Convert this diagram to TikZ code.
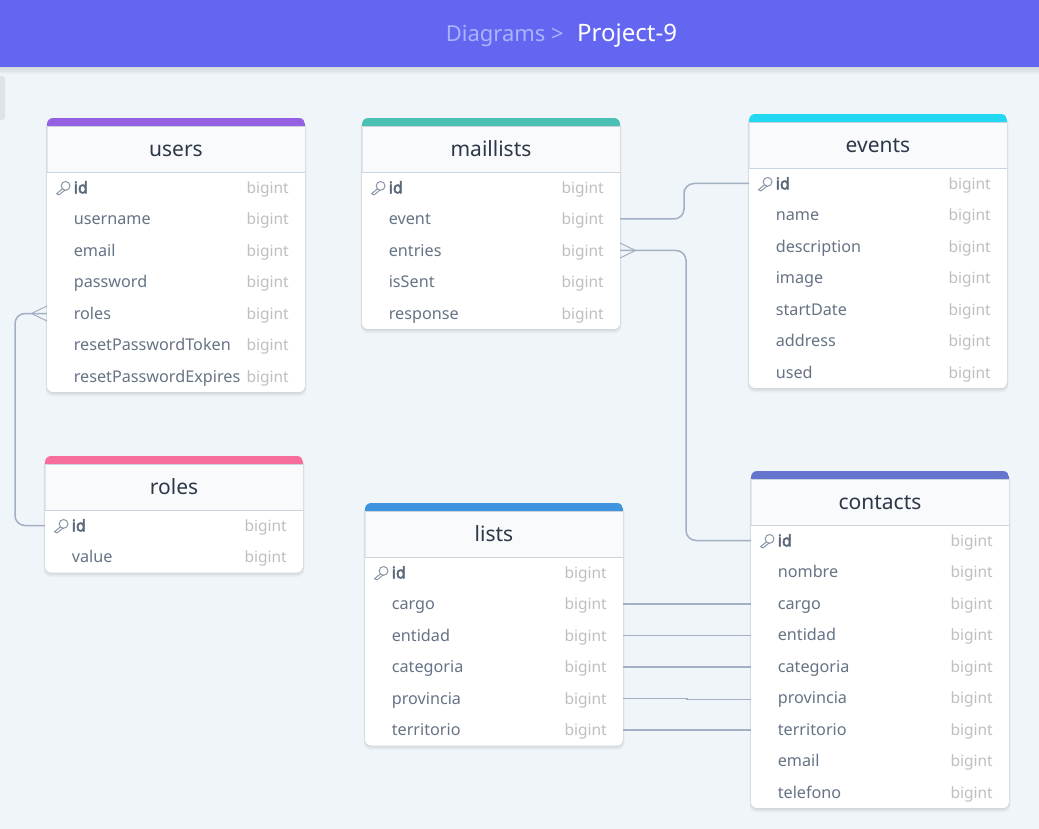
\documentclass[tikz,border=0pt]{standalone}
\usepackage{fontspec}
\setmainfont{Noto Sans}
\newfontfamily\idfont{Noto Sans}[FakeBold=3]
\definecolor{bgc}{HTML}{F0F5F9}
\definecolor{topc}{HTML}{6366F1}
\definecolor{crumb}{HTML}{A9B4FC}
\definecolor{tabc}{HTML}{DCE4EA}
\definecolor{headc}{HTML}{F8FAFC}
\definecolor{edgec}{HTML}{CBD5E0}
\definecolor{titlec}{HTML}{2D3748}
\definecolor{rowc}{HTML}{667385}
\definecolor{idc}{HTML}{5A6778}
\definecolor{typec}{HTML}{BFBFBF}
\definecolor{linkc}{HTML}{A3B0C4}
\definecolor{keyc}{HTML}{8A96A6}
\definecolor{cpurple}{HTML}{9561E2}
\definecolor{cteal}{HTML}{4DC0B5}
\definecolor{ccyan}{HTML}{22D8F2}
\definecolor{cpink}{HTML}{F66D9B}
\definecolor{cblue}{HTML}{3F93DF}
\definecolor{cindigo}{HTML}{6574CD}
\tikzset{
  x=1pt,y=-1pt,
  rowbox/.style={minimum width=258pt,minimum height=31.5pt,inner sep=0pt,outer sep=0pt},
  rowtext/.style={anchor=base west,inner sep=0pt,text=rowc,font=\fontsize{16.2}{19}\selectfont},
  idtext/.style={anchor=base west,inner sep=0pt,text=idc,font=\idfont\fontsize{16}{19}\selectfont},
  typetext/.style={anchor=base east,inner sep=0pt,text=typec,font=\fontsize{15.5}{19}\selectfont},
  titletext/.style={anchor=base,inner sep=0pt,text=titlec,font=\fontsize{21}{24}\selectfont},
  link/.style={draw=linkc,line width=1.5pt,rounded corners=10pt},
  straightlink/.style={draw=linkc,line width=1.5pt},
  crow/.style={draw=linkc,line width=1pt},
  keyicon/.style={draw=keyc,line width=1pt,line cap=round},
}
% name, x, top, colour, title, number of rows, rows
\newcommand{\erd}[7]{%
  \pgfmathsetmacro{\xr}{#2+258}%
  \pgfmathsetmacro{\yb}{#3+69+(#6-1)*31.5+16}%
  \foreach \s in {1,2,3,4,5}{%
    \fill[black,opacity=0.022,rounded corners=7pt] (#2-\s*0.3,#3+\s*0.6) rectangle (\xr+\s*0.3,\yb+\s*0.9);}
  \begin{scope}
    \clip[rounded corners=6pt] (#2,#3) rectangle (\xr,\yb);
    \fill[white] (#2,#3) rectangle (\xr,\yb);
    \fill[headc] (#2,#3) rectangle (\xr,#3+54);
    \fill[#4] (#2,#3) rectangle (\xr,#3+8);
    \draw[edgec,line width=0.6pt] (#2,#3+8.5) -- (\xr,#3+8.5);
    \draw[edgec,line width=1pt] (#2,#3+54.5) -- (\xr,#3+54.5);
    \draw[edgec!60,line width=0.8pt] (#2,#3+8) -- (#2,#3+54) (\xr,#3+8) -- (\xr,#3+54);
  \end{scope}
  \pgfmathsetmacro{\xc}{#2+129}%
  \pgfmathsetmacro{\yt}{#3+38.5}%
  \node[titletext] (#1-title) at (\xc,\yt) {#5};
  \foreach \t [count=\i from 0] in {#7}{%
    \pgfmathsetmacro{\yr}{#3+69.5+\i*31.5}%
    \pgfmathsetmacro{\yba}{\yr+5.8}%
    \pgfmathsetmacro{\xa}{#2+26.6}%
    \pgfmathsetmacro{\xe}{#2+242}%
    \node[rowbox] (#1-\t) at (\xc,\yr) {};
    \ifnum\i=0
      \node[idtext] (#1-\t-name) at (\xa,\yba) {\t};
      \draw[keyicon] (#2+18.6,\yr-1.6) circle[radius=4.4pt];
      \draw[keyicon] (#2+15.4,\yr+1.4) -- (#2+9.6,\yr+6.2) -- (#2+12,\yr+7.4) -- (#2+18,\yr+2.6);
    \else
      \node[rowtext] (#1-\t-name) at (\xa,\yba) {\t};
    \fi
    \node[typetext] (#1-\t-type) at (\xe,\yba) {bigint};
  }
}
\begin{document}
\begin{tikzpicture}
\useasboundingbox (0,0) rectangle (1039,829);
\fill[bgc] (0,0) rectangle (1039,829);
\foreach \s in {1,...,6}{\fill[black,opacity=0.018] (0,67) rectangle (1039,67+\s*1.2);}
\fill[topc] (0,0) rectangle (1039,67);
\fill[tabc,rounded corners=3pt] (-6,76) rectangle (5,120);
\node[anchor=base east,inner sep=0pt,text=crumb,font=\fontsize{22}{28}\selectfont] (crumbs) at (564,41.5) {Diagrams >};
\node[anchor=base west,inner sep=0pt,text=white,font=\fontsize{24}{28}\selectfont] (project) at (577,41.5) {Project-9};

\erd{users}{47}{118}{cpurple}{users}{7}{id,username,email,password,roles,resetPasswordToken,resetPasswordExpires}
\erd{roles}{45}{456}{cpink}{roles}{2}{id,value}
\erd{maillists}{362}{118}{cteal}{maillists}{5}{id,event,entries,isSent,response}
\erd{events}{749}{114}{ccyan}{events}{7}{id,name,description,image,startDate,address,used}
\erd{lists}{365}{503}{cblue}{lists}{6}{id,cargo,entidad,categoria,provincia,territorio}
\erd{contacts}{751}{471}{cindigo}{contacts}{9}{id,nombre,cargo,entidad,categoria,provincia,territorio,email,telefono}

\coordinate (bend1) at (684,200);
\coordinate (bend2) at (686,400);
\coordinate (bend3) at (15,420);
\draw[link] (maillists-event.east) -| (bend1) |- (events-id.west);
\draw[link] (maillists-entries.east) -| (bend2) |- (contacts-id.west);
\draw[link] (users-roles.west) -| (bend3) |- (roles-id.west);
\draw[straightlink] (lists-cargo.east) -- (lists-cargo.east -| contacts-cargo.west);
\draw[straightlink] (lists-entidad.east) -- (lists-entidad.east -| contacts-entidad.west);
\draw[straightlink] (lists-categoria.east) -- (lists-categoria.east -| contacts-categoria.west);
\draw[straightlink] (lists-provincia.east) -- ++(64,0) -- ++(0,1) -- ++(64,0);
\draw[straightlink] (lists-territorio.east) -- (lists-territorio.east -| contacts-territorio.west);
\draw[crow] (maillists-entries.east) ++(0,-7.5) -- ++(15.5,7.5) -- ++(-15.5,7.5);
\draw[crow] (users-roles.west) ++(0,-7.5) -- ++(-15.5,7.5) -- ++(15.5,7.5);
\end{tikzpicture}
\end{document}
